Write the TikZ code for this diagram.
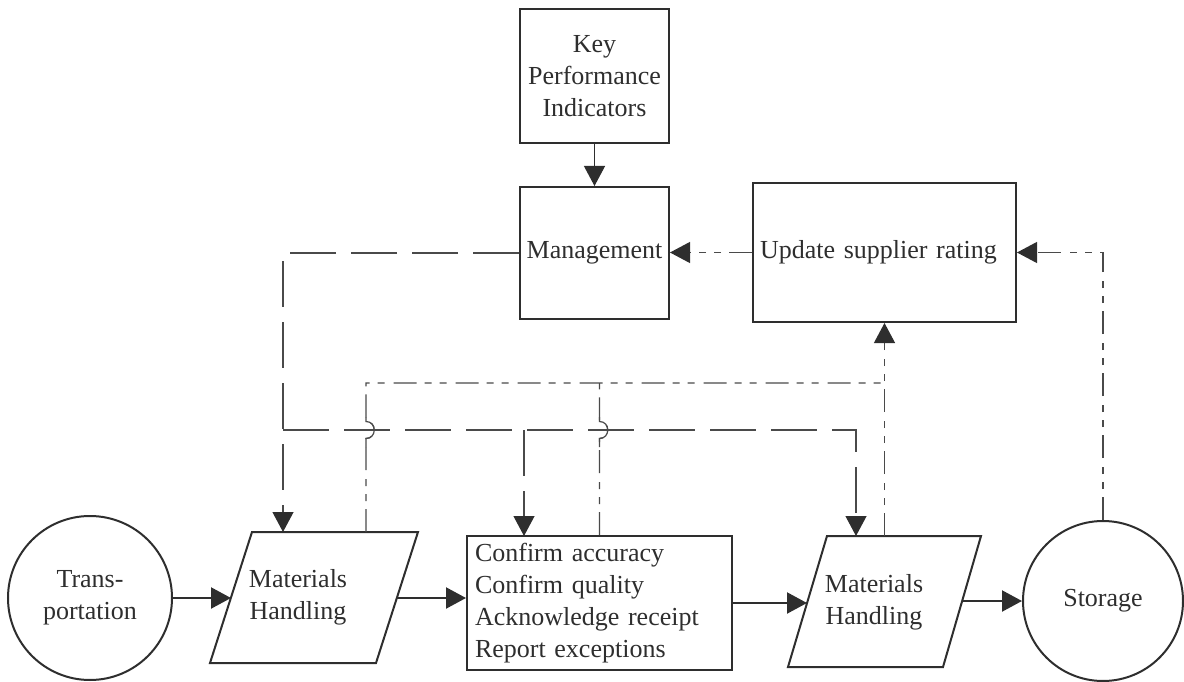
\documentclass[tikz,border=0pt]{standalone}
\usepackage{fontspec}
\setmainfont{Liberation Serif}
\usetikzlibrary{arrows.meta}
\definecolor{ink}{HTML}{2E2E2E}
\definecolor{linegray}{HTML}{4A4A4A}

\begin{document}
\begin{tikzpicture}[x=1pt,y=-1pt,
  font=\fontsize{26}{32}\selectfont,
  every node/.style={text=ink},
  box/.style={draw=ink, line width=2pt, inner sep=0pt},
  disc/.style={draw=ink, line width=2pt, circle, inner sep=0pt},
  outline/.style={draw=ink, line width=2pt, line join=miter},
  headed/.style={-{Triangle[length=20pt,width=21pt,color=ink,fill=ink]}},
  flow/.style={draw=ink, line width=2.2pt, headed},
  lead/.style={draw=linegray, line width=1.2pt},
  longdash/.style={dash pattern=on 46pt off 15pt},
  dashdots/.style={dash pattern=on 23pt off 8pt on 7pt off 8pt on 7pt off 9pt},
]
\useasboundingbox (0,0) rectangle (1184,682);

% --- upper blocks ---
\node[box, minimum width=149pt, minimum height=134pt, align=center] (kpi) at (594.5,76)
  {Key\\Performance\\Indicators};
\node[box, minimum width=149pt, minimum height=132pt] (mgmt) at (594.5,253) {Management};
\node[box, minimum width=263pt, minimum height=139pt, text width=249pt, align=left] (rate)
  at (884.5,252.5) {Update supplier rating};

% --- lower flow ---
\node[disc, minimum size=164pt, align=center] (trans) at (90,598) {Trans-\\portation};
\node[box, minimum width=265pt, minimum height=134pt, text width=249pt, align=left] (check)
  at (599.5,603) {Confirm accuracy\\Confirm quality\\Acknowledge receipt\\Report exceptions};
\node[disc, minimum size=160pt] (store) at (1103,601) {Storage};

% first materials-handling parallelogram
\coordinate (mh1 bl) at (210,663);
\coordinate (mh1 br) at (376,663);
\coordinate (mh1 tr) at (418,532);
\coordinate (mh1 tl) at (252,532);
\draw[outline] (mh1 bl) -- (mh1 br) -- (mh1 tr) -- (mh1 tl) -- cycle;
\node[align=center] (mh1) at (298,597) {Materials\\Handling};
\coordinate (mh1 in) at (231,598);
\coordinate (mh1 out) at (397,598);
\coordinate (mh1 top a) at (283,532);
\coordinate (mh1 top b) at (366,532);

% second materials-handling parallelogram
\coordinate (mh2 bl) at (788,667);
\coordinate (mh2 br) at (943,667);
\coordinate (mh2 tr) at (981,536);
\coordinate (mh2 tl) at (827,536);
\draw[outline] (mh2 bl) -- (mh2 br) -- (mh2 tr) -- (mh2 tl) -- cycle;
\node[align=center] (mh2) at (874,602) {Materials\\Handling};
\coordinate (mh2 in) at (807,603);
\coordinate (mh2 out) at (962,601);
\coordinate (mh2 top a) at (856,536);
\coordinate (mh2 top b) at (884.5,536);

\coordinate (check top a) at (524,536);

% --- main material flow ---
\draw[flow] (trans.east) -- (mh1 in);
\draw[flow] (mh1 out) -- (mh1 out -| check.west);
\draw[flow] (check.east) -- (mh2 in);
\draw[flow] (mh2 out) -- (store.west);

% --- information links ---
\draw[lead, draw=ink, headed] (kpi.south) -- (mgmt.north);
\draw[lead, dashdots, headed] (rate.west) -- (rate.west -| mgmt.east);
\draw[lead, dashdots, headed] (store.north) |- (rate.east);

% directives from management (long dashes)
\coordinate (bus) at (283,430);
\coordinate (bus tap) at (524,430);
\draw[lead, longdash, headed] (mgmt.west) -| (mh1 top a);
\draw[lead, longdash, headed] (bus) -| (mh2 top a);
\draw[lead, longdash, headed] (bus tap) -- (check top a);

% reports back to the rating (dash-dot-dot), hopping over the bus
\coordinate (ring) at (884.5,383);
\draw[lead, dashdots] (mh1 top b) -- (366,438.5)
  .. controls (377,438.5) and (377,421.5) .. (366,421.5) -- (366,383) -- (ring);
\draw[lead, dashdots] (check.north) -- (599.5,438.5)
  .. controls (610.5,438.5) and (610.5,421.5) .. (599.5,421.5) -- (599.5,383);
\draw[lead, dashdots, headed] (mh2 top b) -- (rate.south);

% solid hop arcs where the report lines cross the directive bus
\draw[lead] (366,447) -- (366,438.5)
  .. controls (377,438.5) and (377,421.5) .. (366,421.5) -- (366,417);
\draw[lead] (599.5,447) -- (599.5,438.5)
  .. controls (610.5,438.5) and (610.5,421.5) .. (599.5,421.5) -- (599.5,417);

\end{tikzpicture}
\end{document}
